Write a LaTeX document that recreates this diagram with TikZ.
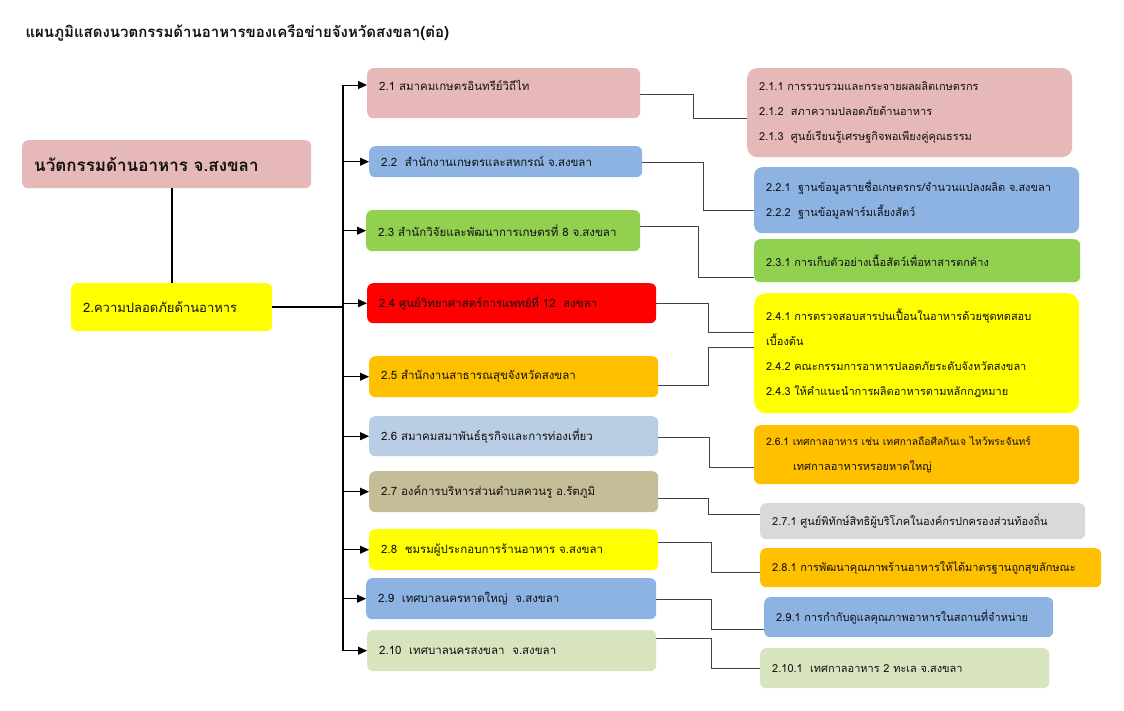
\documentclass[tikz,border=0pt]{standalone}
\usepackage{fontspec}
\setmainfont{Loma}[Script=Thai]
\usetikzlibrary{arrows.meta}
\definecolor{ink}{HTML}{111111}
\definecolor{wire}{HTML}{404040}
\definecolor{pinkbox}{HTML}{E6B9B8}
\definecolor{bluebox}{HTML}{8DB3E2}
\definecolor{greenbox}{HTML}{92D050}
\definecolor{redbox}{HTML}{FF0000}
\definecolor{orangebox}{HTML}{FFC000}
\definecolor{palebox}{HTML}{B9CDE5}
\definecolor{tanbox}{HTML}{C4BD97}
\definecolor{yellowbox}{HTML}{FFFF00}
\definecolor{sagebox}{HTML}{D7E4BD}
\definecolor{greybox}{HTML}{D9D9D9}
\tikzset{
  box/.style={anchor=north west,rounded corners=6pt,inner xsep=12pt,inner ysep=0pt,
    align=left,text=ink,font=\fontsize{11}{25}\selectfont},
  midbox/.style={box,font=\fontsize{11.5}{14}\selectfont},
  trunk/.style={draw=black,line width=2.2pt},
  bus/.style={draw=black,line width=1.6pt},
  feed/.style={-{Triangle[length=9pt,width=8pt]},draw=black,line width=0.9pt},
  link/.style={draw=wire,line width=1pt},
}

\begin{document}
\begin{tikzpicture}[x=1pt,y=-1pt]
  \useasboundingbox[fill=white] (0,0) rectangle (1124,710);

  \node[anchor=west,font=\bfseries\fontsize{15}{18}\selectfont,text=ink]
    (title) at (22,33) {แผนภูมิแสดงนวตกรรมด้านอาหารของเครือข่ายจังหวัดสงขลา(ต่อ)};

  \node[box,fill=pinkbox,text width=265pt,minimum height=48,
        font=\bfseries\fontsize{17}{20}\selectfont] (root) at (22,140)
    {นวัตกรรมด้านอาหาร จ.สงขลา};
  \node[box,fill=yellowbox,text width=177pt,minimum height=48,
        font=\fontsize{13}{16}\selectfont] (safety) at (71,283)
    {2.ความปลอดภัยด้านอาหาร};

  % Second level: one box per partner organisation.
  \foreach \n/\l/\t/\r/\b/\col/\txt in {
      1/367/68/640/118/pinkbox/{\raisebox{0pt}[\height][15pt]{2.1 สมาคมเกษตรอินทรีย์วิถีไท}},
      2/369/146/642/177/bluebox/{2.2 \ สำนักงานเกษตรและสหกรณ์ จ.สงขลา},
      3/366/210/640/251/greenbox/{2.3 สำนักวิจัยและพัฒนาการเกษตรที่ 8 จ.สงขลา},
      4/367/283/656/323/redbox/{2.4 ศูนย์วิทยาศาสตร์การแพทย์ที่ 12 \ สงขลา},
      5/369/356/658/397/orangebox/{2.5 สำนักงานสาธารณสุขจังหวัดสงขลา},
      6/369/416/658/456/palebox/{2.6 สมาคมสมาพันธ์ธุรกิจและการท่องเที่ยว},
      7/369/471/658/512/tanbox/{2.7 องค์การบริหารส่วนตำบลควนรู อ.รัตภูมิ},
      8/369/529/658/570/yellowbox/{2.8 \ ชมรมผู้ประกอบการร้านอาหาร จ.สงขลา},
      9/366/578/656/619/bluebox/{2.9 \ เทศบาลนครหาดใหญ่ \ จ.สงขลา},
      10/367/630/656/671/sagebox/{2.10 \ เทศบาลนครสงขลา \ จ.สงขลา}} {
    \pgfmathsetmacro{\tw}{\r-\l-24}
    \node[midbox,fill=\col,text width=\tw pt,minimum height=\b-\t] (m\n) at (\l,\t) {\txt};
  }

  % Third level: what each partner does.
  \node[box,fill=pinkbox,text width=301pt,minimum height=89,rounded corners=10pt] (r1) at (747,68)
    {2.1.1 การรวบรวมและกระจายผลผลิตเกษตรกร\\
     2.1.2 \ สภาความปลอดภัยด้านอาหาร\\
     2.1.3 \ ศูนย์เรียนรู้เศรษฐกิจพอเพียงคู่คุณธรรม};
  \node[box,fill=bluebox,text width=301pt,minimum height=66,rounded corners=8pt] (r2) at (754,167)
    {2.2.1 \ ฐานข้อมูลรายชื่อเกษตรกร/จำนวนแปลงผลิต จ.สงขลา\\
     2.2.2 \ ฐานข้อมูลฟาร์มเลี้ยงสัตว์};
  \node[box,fill=greenbox,text width=302pt,minimum height=43] (r3) at (754,239)
    {2.3.1 การเก็บตัวอย่างเนื้อสัตว์เพื่อหาสารตกค้าง};
  \node[box,fill=yellowbox,text width=301pt,minimum height=120,rounded corners=12pt] (r4) at (754,293)
    {2.4.1 การตรวจสอบสารปนเปื้อนในอาหารด้วยชุดทดสอบ\\
     เบื้องต้น\\
     2.4.2 คณะกรรมการอาหารปลอดภัยระดับจังหวัดสงขลา\\
     2.4.3 ให้คำแนะนำการผลิตอาหารตามหลักกฎหมาย};
  \node[box,fill=orangebox,text width=301pt,minimum height=59] (r6) at (754,425)
    {{\fontsize{10.3}{25}\selectfont 2.6.1 เทศกาลอาหาร เช่น เทศกาลถือศีลกินเจ ไหว้พระจันทร์}\\
     \hspace*{27pt}เทศกาลอาหารหรอยหาดใหญ่};
  \node[box,fill=greybox,text width=301pt,minimum height=36] (r7) at (760,503)
    {2.7.1 ศูนย์พิทักษ์สิทธิผู้บริโภคในองค์กรปกครองส่วนท้องถิ่น};
  \node[box,fill=orangebox,text width=317pt,minimum height=39] (r8) at (760,548)
    {2.8.1 การพัฒนาคุณภาพร้านอาหารให้ได้มาตรฐานถูกสุขลักษณะ};
  \node[box,fill=bluebox,text width=265pt,minimum height=40] (r9) at (764,597)
    {2.9.1 การกำกับดูแลคุณภาพอาหารในสถานที่จำหน่าย};
  \node[box,fill=sagebox,text width=265pt,minimum height=40] (r10) at (760,648)
    {2.10.1 \ เทศกาลอาหาร 2 ทะเล จ.สงขลา};

  % Root down to 2, then across to the bus.
  \coordinate (bus) at (343,0);
  \draw[trunk] (safety.north |- root.south) -- (safety.north);
  \draw[trunk] (safety.east) -- (bus |- safety.east);
  \draw[bus] (bus |- 0,85) -- (bus |- m10.west);
  \draw[feed] (bus |- 0,85) -- (m1.west |- 0,85);
  \foreach \n in {2,...,10}
    \draw[feed] (bus |- m\n.west) -- (m\n.west);

  % Elbow links to the third level; 2.4 and 2.5 share one box.
  \foreach \a/\b/\ya/\xm/\yb in {m1/r1/94/693/118, m2/r2/162/703/210, m3/r3/226/698/277,
      m4/r4/303/708/332, m5/r4/385/708/347, m6/r6/437/709/467, m7/r7/498/708/514,
      m8/r8/542/711/572, m9/r9/599/711/629, m10/r10/638/711/668}
    \draw[link] (\a.east |- 0,\ya) -| (\xm,\yb) -- (\b.west |- 0,\yb);
\end{tikzpicture}
\end{document}
